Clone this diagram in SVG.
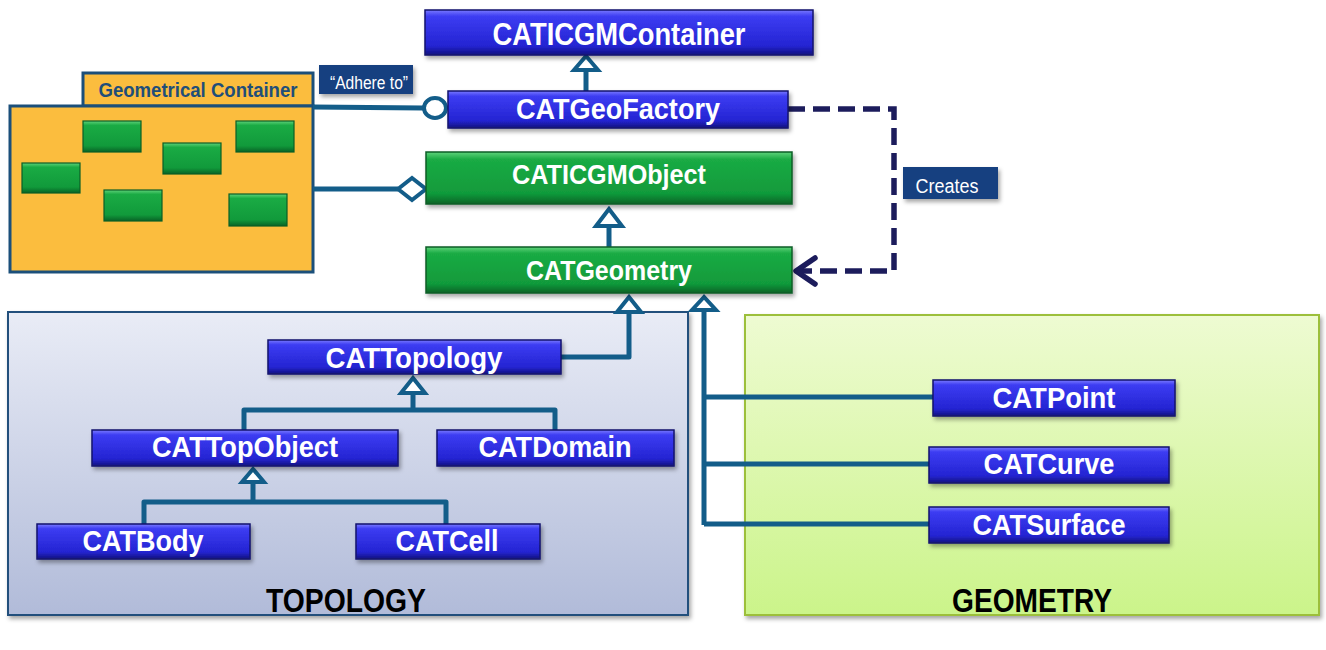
<svg xmlns="http://www.w3.org/2000/svg" width="1326" height="650" viewBox="0 0 1326 650">
<defs>
<linearGradient id="gBlue" x1="0" y1="0" x2="0" y2="1">
<stop offset="0" stop-color="#7a7aff"/><stop offset="0.14" stop-color="#3c3cf2"/><stop offset="0.8" stop-color="#2424d2"/><stop offset="1" stop-color="#12127e"/>
</linearGradient>
<linearGradient id="gGreen" x1="0" y1="0" x2="0" y2="1">
<stop offset="0" stop-color="#5fd27a"/><stop offset="0.14" stop-color="#1aab44"/><stop offset="0.8" stop-color="#119a3b"/><stop offset="1" stop-color="#086326"/>
</linearGradient>
<linearGradient id="gTopo" x1="0" y1="0" x2="0" y2="1">
<stop offset="0" stop-color="#e9ecf6"/><stop offset="1" stop-color="#b1bbd9"/>
</linearGradient>
<linearGradient id="gGeo" x1="0" y1="0" x2="0" y2="1">
<stop offset="0" stop-color="#eefbd2"/><stop offset="1" stop-color="#cbf48a"/>
</linearGradient>
<filter id="sh" x="-10%" y="-20%" width="120%" height="150%">
<feDropShadow dx="2" dy="3" stdDeviation="2" flood-color="#000" flood-opacity="0.35"/>
</filter>
<style>
.bn{fill:url(#gBlue);stroke:#14146e;stroke-width:1.5;filter:url(#sh)}
.gn{fill:url(#gGreen);stroke:#0a5e26;stroke-width:1.5;filter:url(#sh)}
.sg{fill:url(#gGreen);stroke:#0a5e26;stroke-width:1.2}
.nt{font-family:"Liberation Sans",Arial,sans-serif;font-weight:bold;fill:#fff;text-anchor:middle}
.ln{fill:none;stroke:#135d89;stroke-width:5;stroke-linejoin:round}
.tri{fill:#fff;stroke:#135d89;stroke-width:4;stroke-linejoin:miter}
.dash{fill:none;stroke:#1c1c5c;stroke-width:5.5;stroke-dasharray:17 8}
.lbl{fill:#123f80;filter:url(#sh)}
.lt{font-family:"Liberation Sans",Arial,sans-serif;fill:#fff;text-anchor:middle}
.pt{font-family:"Liberation Sans",Arial,sans-serif;font-weight:bold;fill:#000;text-anchor:middle}
</style>
</defs>
<rect width="1326" height="650" fill="#fff"/>

<g id="topology-panel">
<rect x="8" y="312" width="680" height="303" fill="url(#gTopo)" stroke="#24507c" stroke-width="2" filter="url(#sh)"/>
<text class="pt" x="346" y="612" font-size="33" textLength="160" lengthAdjust="spacingAndGlyphs">TOPOLOGY</text>
</g>
<g id="geometry-panel">
<rect x="745" y="315" width="574" height="300" fill="url(#gGeo)" stroke="#9cbf3a" stroke-width="2" filter="url(#sh)"/>
<text class="pt" x="1032" y="612" font-size="33" textLength="160" lengthAdjust="spacingAndGlyphs">GEOMETRY</text>
</g>

<g id="geometrical-container">
<rect x="83" y="73" width="230" height="33" fill="#fbbd3e" stroke="#1b4f7a" stroke-width="3"/>
<rect x="10" y="106" width="303" height="166" fill="#fbbd3e" stroke="#1b4f7a" stroke-width="3"/>
<text x="198" y="97" font-family="'Liberation Sans',Arial,sans-serif" font-weight="bold" font-size="20" fill="#1f4e79" text-anchor="middle" textLength="199" lengthAdjust="spacingAndGlyphs">Geometrical Container</text>
<rect class="sg" x="83" y="121" width="58" height="31"/>
<rect class="sg" x="236" y="121" width="58" height="31"/>
<rect class="sg" x="163" y="143" width="58" height="31"/>
<rect class="sg" x="22" y="163" width="58" height="30"/>
<rect class="sg" x="104" y="190" width="58" height="31"/>
<rect class="sg" x="229" y="194" width="58" height="32"/>
</g>

<g id="connectors">
<path class="ln" d="M313 107 L423 108"/>
<ellipse cx="435" cy="108" rx="11" ry="10" fill="#fff" stroke="#135d89" stroke-width="4"/>
<path class="ln" d="M313 189 L398 189"/>
<path d="M398 189 L412 178 L426 189 L412 200 Z" fill="#fff" stroke="#135d89" stroke-width="4"/>
<path class="ln" d="M586 91 L586 70"/>
<path class="tri" d="M586 56 L574 70 L598 70 Z"/>
<path class="ln" d="M609 247 L609 227"/>
<path class="tri" d="M609 209 L596 226 L622 226 Z"/>
<path class="dash" d="M788 109 L894 109 L894 271 L800 271"/>
<path d="M815 258 L796 271 L815 284" fill="none" stroke="#1c1c5c" stroke-width="5.5" stroke-linecap="round" stroke-linejoin="round"/>
<path class="ln" d="M561 357 L629 357 L629 312"/>
<path class="tri" d="M629 297 L617 312 L641 312 Z"/>
<path class="ln" d="M704 309 L704 525"/>
<path class="ln" d="M704 397 L933 397"/>
<path class="ln" d="M704 464 L929 464"/>
<path class="ln" d="M704 524 L929 524"/>
<path class="tri" d="M704 297 L692 310 L716 310 Z"/>
<path class="ln" d="M413 393 L413 410 M244 430 L244 410 L555 410 L555 430"/>
<path class="tri" d="M413 378 L401 393 L425 393 Z"/>
<path class="ln" d="M253 482 L253 502 M144 524 L144 502 L446 502 L446 524"/>
<path class="tri" d="M253 469 L242 482 L264 482 Z"/>
</g>

<g id="label-adhere">
<rect class="lbl" x="319" y="65" width="94" height="29"/>
<text class="lt" x="369" y="89" font-size="18" textLength="78" lengthAdjust="spacingAndGlyphs">“Adhere to”</text>
</g>
<g id="label-creates">
<rect class="lbl" x="903" y="167" width="95" height="32"/>
<text class="lt" x="947" y="193" font-size="20" textLength="63" lengthAdjust="spacingAndGlyphs">Creates</text>
</g>

<g id="CATICGMContainer">
<rect class="bn" x="425" y="10" width="388" height="45"/>
<text class="nt" x="619" y="45" font-size="31" textLength="253" lengthAdjust="spacingAndGlyphs">CATICGMContainer</text>
</g>
<g id="CATGeoFactory">
<rect class="bn" x="448" y="91" width="340" height="37"/>
<text class="nt" x="618" y="119" font-size="29" textLength="204" lengthAdjust="spacingAndGlyphs">CATGeoFactory</text>
</g>
<g id="CATICGMObject">
<rect class="gn" x="426" y="152" width="366" height="52"/>
<text class="nt" x="609" y="184" font-size="27" textLength="194" lengthAdjust="spacingAndGlyphs">CATICGMObject</text>
</g>
<g id="CATGeometry">
<rect class="gn" x="426" y="247" width="366" height="46"/>
<text class="nt" x="609" y="280" font-size="28" textLength="166" lengthAdjust="spacingAndGlyphs">CATGeometry</text>
</g>
<g id="CATTopology">
<rect class="bn" x="268" y="340" width="293" height="34"/>
<text class="nt" x="414" y="368" font-size="30" textLength="177" lengthAdjust="spacingAndGlyphs">CATTopology</text>
</g>
<g id="CATTopObject">
<rect class="bn" x="92" y="430" width="306" height="36"/>
<text class="nt" x="245" y="457" font-size="30" textLength="186" lengthAdjust="spacingAndGlyphs">CATTopObject</text>
</g>
<g id="CATDomain">
<rect class="bn" x="437" y="430" width="237" height="36"/>
<text class="nt" x="555" y="457" font-size="30" textLength="153" lengthAdjust="spacingAndGlyphs">CATDomain</text>
</g>
<g id="CATBody">
<rect class="bn" x="37" y="524" width="213" height="35"/>
<text class="nt" x="143" y="551" font-size="30" textLength="121" lengthAdjust="spacingAndGlyphs">CATBody</text>
</g>
<g id="CATCell">
<rect class="bn" x="356" y="524" width="184" height="35"/>
<text class="nt" x="447" y="551" font-size="30" textLength="103" lengthAdjust="spacingAndGlyphs">CATCell</text>
</g>
<g id="CATPoint">
<rect class="bn" x="933" y="380" width="242" height="36"/>
<text class="nt" x="1054" y="408" font-size="30" textLength="123" lengthAdjust="spacingAndGlyphs">CATPoint</text>
</g>
<g id="CATCurve">
<rect class="bn" x="929" y="447" width="240" height="36"/>
<text class="nt" x="1049" y="474" font-size="30" textLength="131" lengthAdjust="spacingAndGlyphs">CATCurve</text>
</g>
<g id="CATSurface">
<rect class="bn" x="929" y="507" width="240" height="36"/>
<text class="nt" x="1049" y="535" font-size="30" textLength="153" lengthAdjust="spacingAndGlyphs">CATSurface</text>
</g>
</svg>
